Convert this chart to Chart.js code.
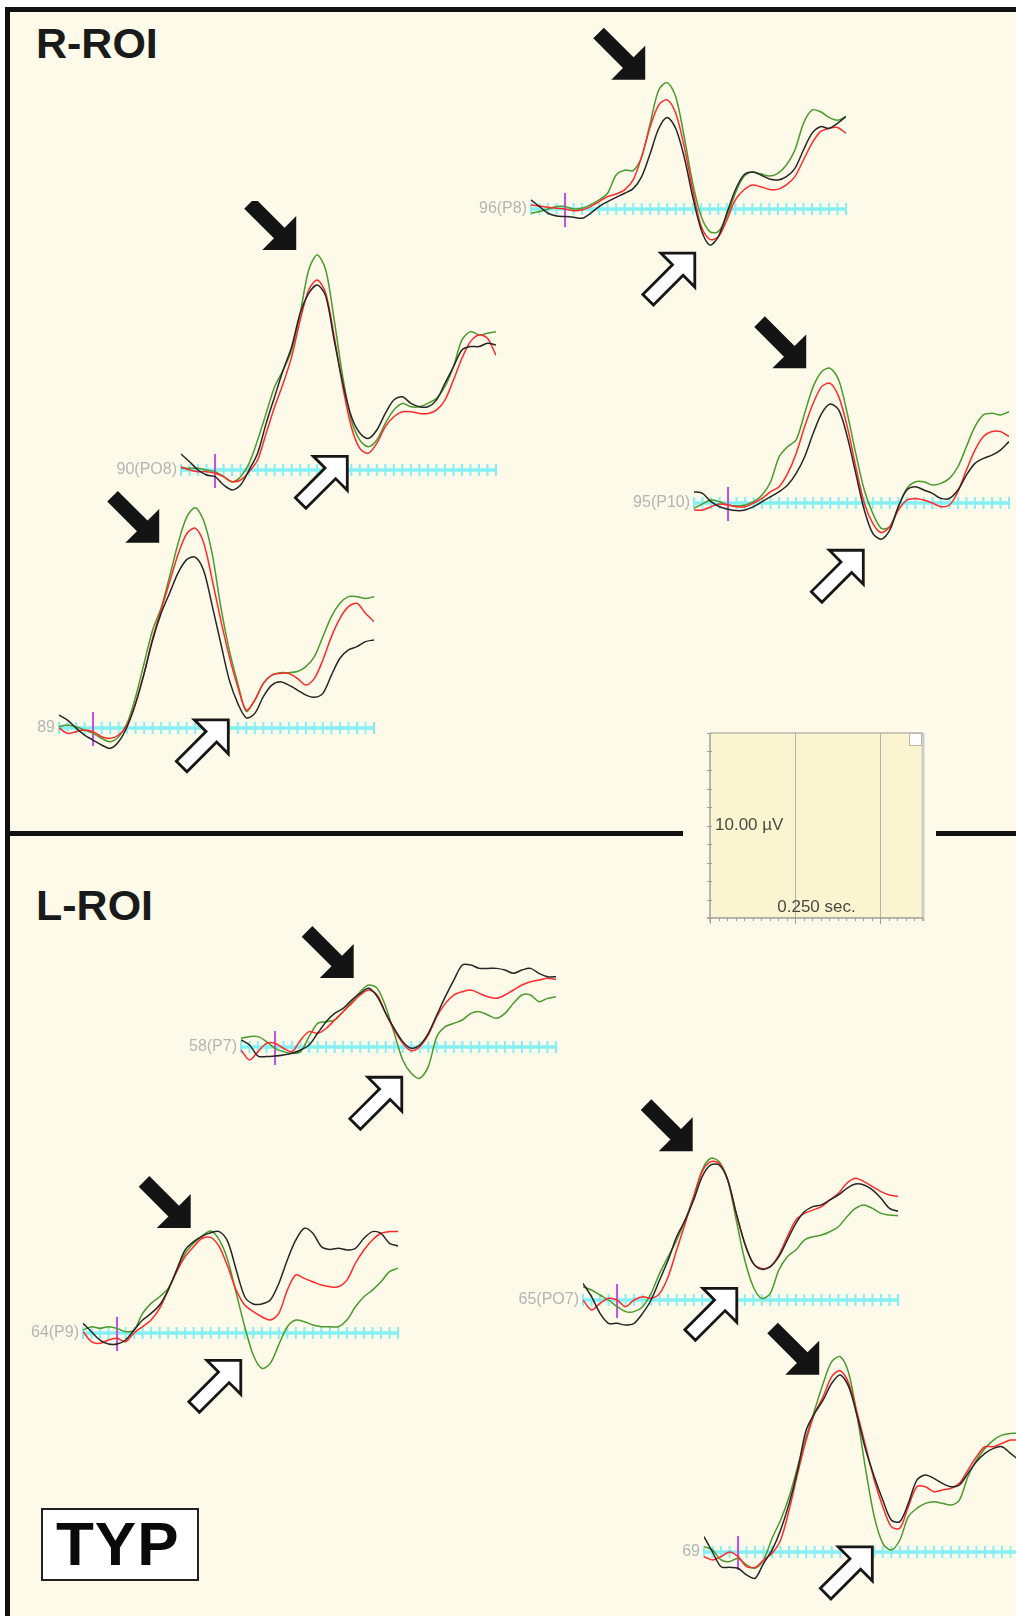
<!DOCTYPE html>
<html>
<head>
<meta charset="utf-8">
<script src="https://cdn.jsdelivr.net/npm/chart.js@4"></script>
<style>
  html, body { margin: 0; padding: 0; width: 1016px; height: 1616px; overflow: hidden; background: #ffffff; }
  #page { position: relative; width: 1016px; height: 1616px; overflow: hidden; }
  .frame { position: absolute; left: 5px; top: 7px; width: 1011px; height: 1609px; box-sizing: border-box;
           border-left: 5px solid #111; border-top: 5px solid #111; background: #FDFAEA; }
  .divider { position: absolute; top: 831px; height: 5px; background: #111; }
  .roi { position: absolute; font-family: "Liberation Sans", Arial, sans-serif; font-weight: bold;
         font-size: 43px; line-height: 1; color: #1a1a1a; white-space: nowrap; }
  .typ { position: absolute; left: 41px; top: 1508px; width: 158px; height: 73px; box-sizing: border-box;
         border: 2px solid #222; background: #ffffff; }
  .typ span { position: absolute; left: 13px; top: 3px; font-family: "Liberation Sans", Arial, sans-serif;
              font-weight: bold; font-size: 62px; line-height: 1; letter-spacing: 1px; color: #0a0a0a; }
  canvas { position: absolute; }
</style>
</head>
<body>
<div id="page">
  <div class="frame"></div>
  <div class="divider" style="left:10px; width:673px;"></div>
  <div class="divider" style="left:936px; width:80px;"></div>
  <div class="roi" style="left:36px; top:22px;">R-ROI</div>
  <div class="roi" style="left:36px; top:884px;">L-ROI</div>
  <div class="typ"><span>TYP</span></div>
</div>
<script>
// Epoch sample times (ms), shared by every electrode
const times = [-40,-30,-20,-10,0,10,20,30,40,50,60,70,80,90,100,110,120,130,140,150,160,170,180,190,200,210,220,230,240,250,260,270,280,290,300,310,320,330];

// Grand-average amplitudes (µV), one array per electrode and condition trace
const e96_black = [0.49,0.13,-0.23,-0.38,-0.41,-0.45,-0.5,-0.23,0.13,0.4,0.63,0.85,1.1,1.75,3.0,4.35,4.95,4.35,2.8,0.65,-1.13,-1.95,-1.5,-0.23,1.03,1.84,2.0,1.84,1.62,1.57,1.75,2.2,3.19,4.09,4.45,4.36,4.63,5.0];
const e96_red   = [0.22,0.16,0.09,0.04,0,-0.09,-0.05,0.13,0.4,0.67,0.81,1.03,1.57,2.83,4.45,5.62,5.9,5.17,3.37,1.03,-0.95,-1.64,-1.5,-0.6,0.49,1.03,1.3,1.2,1.06,1.06,1.3,1.75,2.65,3.55,4.18,4.36,4.41,4.09];
const e96_green = [-0.23,-0.14,0,0.13,0.13,0,0.04,0.22,0.49,0.85,1.84,2.1,2.07,2.83,4.63,6.43,6.83,6.07,3.9,1.39,-0.41,-1.22,-1.22,-0.41,0.85,1.75,2.0,1.9,1.78,1.93,2.38,3.19,4.63,5.35,5.26,4.95,4.8,5.0];

const e90_black = [0.86,0.45,0,-0.27,-0.36,-0.81,-1.08,-0.81,0,0.9,2.52,3.96,5.4,6.67,8.47,9.55,10.0,9.4,7.0,4.7,2.9,2.0,1.7,2.16,3.06,3.78,3.96,3.6,3.42,3.42,3.78,4.68,5.58,6.49,6.67,6.67,6.85,6.76];
const e90_red   = [0.18,0,-0.09,-0.09,-0.18,-0.36,-0.63,-0.54,-0.09,0.54,1.98,3.42,4.68,6.13,8.1,9.73,10.27,9.55,7.2,4.5,2.34,1.17,0.9,1.44,2.34,2.88,3.15,3.15,3.06,3.06,3.24,3.78,4.86,6.04,6.94,7.3,7.12,6.2];
const e90_green = [0.09,0.09,0.09,0,-0.09,-0.36,-0.63,-0.36,0.36,1.62,3.06,4.5,5.4,6.49,8.47,10.81,11.62,10.81,8.1,5.04,2.7,1.62,1.26,1.62,2.52,3.24,3.6,3.42,3.42,3.6,3.87,4.5,5.58,7.03,7.48,7.3,7.39,7.48];

const e95_black = [0.61,0.52,0.07,-0.2,-0.34,-0.41,-0.38,-0.2,0.07,0.34,0.61,0.97,1.6,2.5,3.77,4.85,5.35,5.03,3.59,1.6,-0.38,-1.64,-1.96,-1.46,-0.2,0.7,0.88,0.7,0.52,0.25,0.25,0.7,1.51,2.14,2.41,2.59,2.86,3.32];
const e95_red   = [-0.38,-0.38,-0.2,-0.05,-0.11,-0.2,-0.2,0,0.25,0.61,0.88,1.6,2.68,4.13,5.39,6.29,6.47,5.75,4.13,1.96,0,-1.1,-1.6,-1.28,-0.38,0.16,0.25,0.16,0,-0.2,-0.11,0.61,1.78,2.86,3.59,3.86,3.86,3.59];
const e95_green = [-0.29,-0.05,0.16,0.07,-0.11,-0.16,-0.11,0.07,0.43,1.15,2.5,3.05,3.41,4.85,6.29,7.1,7.28,6.65,4.85,2.68,0.7,-0.56,-1.37,-1.28,-0.2,0.79,1.15,1.15,0.97,1.06,1.33,1.96,3.05,4.13,4.76,4.85,4.76,4.94];

const e89_black = [0.7,0.43,0,-0.38,-0.65,-0.92,-1.1,-0.74,0.07,1.33,2.95,4.76,6.2,7.3,8.4,9.1,9.24,8.5,6.6,4.58,2.6,1.33,0.55,0.79,1.7,2.32,2.5,2.32,2.05,1.78,1.66,1.87,2.86,3.77,4.22,4.4,4.67,4.76];
const e89_red   = [0,-0.29,-0.2,-0.11,-0.2,-0.47,-0.56,-0.38,0.16,1.33,2.95,4.85,6.4,7.9,9.4,10.5,10.8,10.0,8.0,5.84,3.86,2.23,0.97,1.51,2.41,2.86,2.95,2.95,2.68,2.32,2.68,3.68,4.94,5.93,6.56,6.74,6.2,5.75];
const e89_green = [0.07,0.16,0.07,-0.11,-0.29,-0.56,-0.74,-0.47,0.25,1.69,3.5,5.3,6.5,8.2,10.0,11.4,11.9,11.2,9.4,6.56,4.22,2.41,0.9,1.51,2.41,2.86,2.99,2.99,3.05,3.32,3.86,4.94,6.02,6.74,7.1,7.1,7.0,7.1];

const e58_black = [0.38,0.11,-0.49,-0.52,-0.49,-0.43,-0.34,-0.16,0.11,0.74,1.37,1.82,2.09,2.54,2.9,3.17,2.72,1.82,1.0,0.29,-0.07,0.11,0.74,1.73,2.72,3.62,4.43,4.43,4.25,4.25,4.25,4.16,3.98,4.16,4.25,3.98,3.8,3.8];
const e58_red   = [-0.16,-0.7,-0.25,0.2,0.2,-0.07,-0.25,0.38,0.83,0.74,1.0,1.46,1.91,2.36,2.81,3.08,2.81,1.82,0.92,0.2,-0.2,0.02,0.65,1.64,2.36,2.81,2.99,3.08,2.9,2.72,2.63,2.81,3.08,3.35,3.53,3.62,3.71,3.66];
const e58_green = [0.47,0.56,0.56,0.29,-0.07,-0.25,-0.34,-0.25,0.56,1.28,1.37,1.46,1.91,2.45,2.99,3.35,3.17,2.18,0.74,-0.7,-1.42,-1.69,-1.06,0.56,1.1,1.28,1.46,1.82,1.91,1.73,1.55,1.82,2.36,2.81,2.81,2.45,2.63,2.72];

const e64_black = [0.52,0.07,-0.38,-0.6,-0.6,-0.38,0.16,0.7,1.06,1.51,2.32,3.41,4.49,4.94,5.24,5.42,5.48,4.94,3.41,1.96,1.57,1.57,1.78,2.68,3.95,5.03,5.66,5.39,4.67,4.52,4.58,4.49,4.58,5.12,5.48,5.39,4.85,4.7];
const e64_red   = [0.07,-0.47,-0.56,-0.38,-0.29,-0.47,0,0.34,0.7,1.33,2.32,3.32,4.13,4.67,5.12,5.17,4.67,3.59,2.32,1.51,1.15,0.88,0.7,1.06,2.32,3.14,2.95,2.77,2.59,2.5,2.5,2.86,3.77,4.49,5.03,5.39,5.48,5.48];
const e64_green = [0.16,0.34,0.25,0.34,0.25,0.07,0.16,1.06,1.6,1.96,2.41,3.32,4.31,4.85,5.24,5.51,5.03,3.95,2.14,0.34,-1.19,-1.91,-1.64,-0.63,0.34,0.7,0.61,0.43,0.34,0.34,0.34,0.7,1.42,1.96,2.32,2.77,3.32,3.5];

const e65_black = [0.9,0.18,-0.72,-1.26,-1.26,-1.35,-1.26,-0.72,0,1.08,2.16,3.42,4.32,5.41,6.67,7.3,7.3,6.49,4.68,3.06,1.98,1.66,1.8,2.34,3.24,4.14,4.77,5.05,5.14,5.41,5.68,6.04,6.27,6.22,5.95,5.5,4.95,4.8];
const e65_red   = [0,-0.54,-0.18,0.09,0,-0.36,0,0.18,0.09,0.36,1.26,2.7,4.14,5.59,6.94,7.48,7.39,6.49,4.68,3.06,1.98,1.71,1.8,2.43,3.42,4.32,4.68,4.86,5.05,5.41,5.77,6.31,6.58,6.4,6.13,5.86,5.68,5.6];
const e65_green = [0.72,0.54,0.27,0,-0.36,-0.63,-0.63,-0.36,0.36,1.44,2.34,3.24,4.32,5.59,7.03,7.66,7.48,6.49,4.32,2.16,0.72,0.09,0.36,1.62,2.34,2.7,3.24,3.42,3.51,3.69,3.96,4.5,4.95,5.14,4.95,4.68,4.59,4.55];

const e69_black = [0.83,0,-0.8,-0.83,-0.88,-1.24,-1.42,-0.61,0.11,1.19,2.63,4.43,6.59,7.5,8.22,9.12,9.57,8.94,7.32,5.51,4.07,2.81,1.73,1.64,2.63,3.89,4.16,3.98,3.71,3.53,3.62,4.25,4.88,5.33,5.6,5.69,5.33,4.97];
const e69_red   = [-0.25,-0.43,-0.25,0,-0.25,-0.79,-0.83,-0.43,-0.07,0.65,2.27,4.25,6.05,7.5,8.4,9.48,9.8,9.12,7.5,5.69,3.89,2.45,1.37,1.28,2.45,3.53,3.53,3.26,3.35,3.44,3.71,4.43,5.15,5.69,5.69,5.87,6.05,6.05];
const e69_green = [0.29,0.11,-0.43,-0.52,-0.34,-0.7,-0.88,-0.43,0.74,1.73,2.99,4.61,6.23,7.68,9.12,10.29,10.56,9.66,7.32,4.43,1.91,0.47,0.11,0.65,1.91,2.36,2.63,2.72,2.63,2.54,2.81,4.07,4.97,5.6,6.05,6.32,6.41,6.41];

// Channel labels
const labels = ['96(P8)', '90(PO8)', '95(P10)', '89', '58(P7)', '64(P9)', '65(PO7)', '69'];

// Trace colours: black, red, green
const traceColors = ['#262626', '#ff2b2b', '#4b9a2c'];

// Page placement of each channel: stimulus-onset x, zero-µV y, and arrow offsets (px)
const layout = [
  { onset: [565, 209],  peakArrow: [-22, -3], troughArrow: [-15, 8] },
  { onset: [215, 470],  peakArrow: [-21, -5], troughArrow: [-21, 3] },
  { onset: [728, 503],  peakArrow: [-24, 0],  troughArrow: [-18, 11] },
  { onset: [93, 728],   peakArrow: [-36, 35], troughArrow: [-18, 2] },
  { onset: [275, 1047], peakArrow: [-15, -7], troughArrow: [-18, -1] },
  { onset: [117, 1333], peakArrow: [-20, -3], troughArrow: [-21, -8] },
  { onset: [617, 1300], peakArrow: [-18, -7], troughArrow: [-25, -10] },
  { onset: [738, 1552], peakArrow: [-21, 18], troughArrow: [-19, -3] }
];
const series = [
  [e96_black, e96_red, e96_green],
  [e90_black, e90_red, e90_green],
  [e95_black, e95_red, e95_green],
  [e89_black, e89_red, e89_green],
  [e58_black, e58_red, e58_green],
  [e64_black, e64_red, e64_green],
  [e65_black, e65_red, e65_green],
  [e69_black, e69_red, e69_green]
];

// Axis ranges shared by all channels
const T_MIN = -40, T_MAX = 330, V_MIN = -6, V_MAX = 14;
const AREA_W = 315, AREA_H = 370;          // 0.851 px/ms, 18.5 px/µV
const PAD = { left: 80, right: 10, top: 10, bottom: 10 };

function drawArrow(ctx, tx, ty, down, filled) {
  const s = Math.SQRT1_2;
  const d = [s, down ? s : -s];
  const n = [-d[1], d[0]];
  const L = 66, h = 24, hw = 24, sw = 7.5;
  const pts = [[0,0],[-h,hw],[-h,sw],[-L,sw],[-L,-sw],[-h,-sw],[-h,-hw]];
  ctx.beginPath();
  pts.forEach(([u, v], i) => {
    const px = tx + u * d[0] + v * n[0];
    const py = ty + u * d[1] + v * n[1];
    if (i) ctx.lineTo(px, py); else ctx.moveTo(px, py);
  });
  ctx.closePath();
  if (filled) {
    ctx.fillStyle = '#141414';
    ctx.fill();
  } else {
    ctx.fillStyle = '#ffffff';
    ctx.fill();
    ctx.lineWidth = 2.8;
    ctx.lineJoin = 'miter';
    ctx.strokeStyle = '#161616';
    ctx.stroke();
  }
}

// Baseline with 10 ms ticks, onset marker, channel name and peak/trough arrows
const erpPlugin = {
  id: 'erp',
  beforeDatasetsDraw(chart) {
    const { ctx, scales: { x, y } } = chart;
    const y0 = y.getPixelForValue(0);
    ctx.save();
    ctx.strokeStyle = '#84F0F4';
    ctx.lineWidth = 3.5;
    ctx.beginPath();
    ctx.moveTo(x.getPixelForValue(T_MIN), y0);
    ctx.lineTo(x.getPixelForValue(T_MAX), y0);
    ctx.stroke();
    ctx.lineWidth = 2;
    ctx.beginPath();
    times.forEach(t => {
      const px = x.getPixelForValue(t);
      ctx.moveTo(px, y0 - 6);
      ctx.lineTo(px, y0 + 6);
    });
    ctx.stroke();
    const x0 = x.getPixelForValue(0);
    ctx.strokeStyle = '#C34FE0';
    ctx.lineWidth = 2;
    ctx.beginPath();
    ctx.moveTo(x0, y0 - 16);
    ctx.lineTo(x0, y0 + 18);
    ctx.stroke();
    ctx.restore();
  },
  afterDatasetsDraw(chart, args, opts) {
    const { ctx, scales: { x, y } } = chart;
    ctx.save();
    ctx.font = '16px "Liberation Sans", Arial, sans-serif';
    ctx.fillStyle = '#b4b4b4';
    ctx.textAlign = 'right';
    ctx.textBaseline = 'middle';
    ctx.fillText(opts.label, x.getPixelForValue(T_MIN) - 4, y.getPixelForValue(0));

    // largest positive peak and deepest following trough across all traces
    let peak = null, trough = null;
    chart.data.datasets.forEach(ds => ds.data.forEach(p => {
      if (p.x >= 60 && p.x <= 160 && (!peak || p.y > peak.y)) peak = p;
      if (p.x >= 140 && p.x <= 220 && (!trough || p.y < trough.y)) trough = p;
    }));
    drawArrow(ctx, x.getPixelForValue(peak.x) + opts.peakArrow[0],
                   y.getPixelForValue(peak.y) + opts.peakArrow[1], true, true);
    drawArrow(ctx, x.getPixelForValue(trough.x) + opts.troughArrow[0],
                   y.getPixelForValue(trough.y) + opts.troughArrow[1], false, false);
    ctx.restore();
  }
};

const page = document.getElementById('page');
const mkPoints = vals => times.map((t, i) => ({ x: t, y: vals[i] }));

labels.forEach((label, k) => {
  const L = layout[k];
  const areaLeft = L.onset[0] + T_MIN * AREA_W / (T_MAX - T_MIN);
  const areaTop = L.onset[1] - V_MAX * AREA_H / (V_MAX - V_MIN);
  const cv = document.createElement('canvas');
  cv.width = PAD.left + AREA_W + PAD.right;
  cv.height = PAD.top + AREA_H + PAD.bottom;
  cv.style.left = (areaLeft - PAD.left) + 'px';
  cv.style.top = (areaTop - PAD.top) + 'px';
  cv.style.width = cv.width + 'px';
  cv.style.height = cv.height + 'px';
  page.appendChild(cv);
  new Chart(cv, {
    type: 'line',
    data: {
      datasets: series[k].map((vals, j) => ({
        data: mkPoints(vals),
        borderColor: traceColors[j],
        borderWidth: 1.5,
        pointRadius: 0,
        tension: 0.3,
        fill: false
      }))
    },
    options: {
      responsive: false,
      maintainAspectRatio: false,
      animation: false,
      devicePixelRatio: 1,
      events: [],
      layout: { padding: PAD },
      scales: {
        x: { type: 'linear', min: T_MIN, max: T_MAX, display: false },
        y: { type: 'linear', min: V_MIN, max: V_MAX, display: false }
      },
      plugins: {
        legend: { display: false },
        tooltip: { enabled: false },
        erp: { label, peakArrow: L.peakArrow, troughArrow: L.troughArrow }
      }
    },
    plugins: [erpPlugin]
  });
});

// Calibration box: 0.250 s wide, 10 µV tall
const CAL_SEC = 0.25, CAL_UV = 10;
const calPlugin = {
  id: 'cal',
  beforeDraw(chart) {
    const { ctx, chartArea: a, scales: { x, y } } = chart;
    ctx.save();
    ctx.fillStyle = '#FBF4D0';
    ctx.fillRect(a.left, a.top, a.right - a.left, a.bottom - a.top);
    // vertical grid every 0.1 s
    ctx.strokeStyle = '#b3b2aa';
    ctx.lineWidth = 1;
    [0.1, 0.2].forEach(v => {
      const px = Math.round(x.getPixelForValue(v)) + 0.5;
      ctx.beginPath(); ctx.moveTo(px, a.top); ctx.lineTo(px, a.bottom); ctx.stroke();
    });
    // top edge
    ctx.strokeStyle = '#b8b7ae';
    ctx.lineWidth = 1.5;
    ctx.beginPath(); ctx.moveTo(a.left, a.top); ctx.lineTo(a.right, a.top); ctx.stroke();
    // right edge
    ctx.strokeStyle = '#cfcec6';
    ctx.lineWidth = 3;
    ctx.beginPath(); ctx.moveTo(a.right, a.top); ctx.lineTo(a.right, a.bottom + 3); ctx.stroke();
    // left axis with 1 µV ticks
    ctx.strokeStyle = '#a09f98';
    ctx.lineWidth = 1.5;
    const xl = x.getPixelForValue(0);
    ctx.beginPath(); ctx.moveTo(xl, a.top); ctx.lineTo(xl, a.bottom + 4); ctx.stroke();
    ctx.lineWidth = 1;
    ctx.beginPath();
    for (let v = 0; v <= CAL_UV; v++) {
      const py = Math.round(y.getPixelForValue(v)) + 0.5;
      ctx.moveTo(xl - 3, py); ctx.lineTo(xl + 2, py);
    }
    ctx.stroke();
    // bottom axis with 10 ms ticks
    const yb = y.getPixelForValue(0);
    ctx.lineWidth = 1.5;
    ctx.beginPath(); ctx.moveTo(xl - 3, yb); ctx.lineTo(a.right, yb); ctx.stroke();
    ctx.lineWidth = 1;
    ctx.beginPath();
    for (let i = 0; i <= 25; i++) {
      const px = Math.round(x.getPixelForValue(i / 100)) + 0.5;
      ctx.moveTo(px, yb); ctx.lineTo(px, yb + (i % 10 === 0 ? 6 : 3));
    }
    ctx.stroke();
    // small box in the corner
    ctx.fillStyle = '#ffffff';
    ctx.strokeStyle = '#b8b7ae';
    ctx.fillRect(a.right - 13, a.top + 1, 11, 11);
    ctx.strokeRect(a.right - 13.5, a.top + 0.5, 12, 12);
    // scale texts
    ctx.fillStyle = '#4a4a44';
    ctx.font = '17px "Liberation Sans", Arial, sans-serif';
    ctx.textBaseline = 'middle';
    ctx.textAlign = 'left';
    ctx.fillText(CAL_UV.toFixed(2) + ' µV', xl + 5, y.getPixelForValue(CAL_UV / 2));
    ctx.textAlign = 'center';
    ctx.textBaseline = 'alphabetic';
    ctx.fillText(CAL_SEC.toFixed(3) + ' sec.', x.getPixelForValue(CAL_SEC / 2), y.getPixelForValue(0.35));
    ctx.restore();
  }
};
const calCanvas = document.createElement('canvas');
calCanvas.width = 250; calCanvas.height = 215;
calCanvas.style.left = '690px'; calCanvas.style.top = '720px';
calCanvas.style.width = '250px'; calCanvas.style.height = '215px';
page.appendChild(calCanvas);
new Chart(calCanvas, {
  type: 'line',
  data: { datasets: [] },
  options: {
    responsive: false, maintainAspectRatio: false, animation: false, devicePixelRatio: 1, events: [],
    layout: { padding: { left: 20, top: 13, right: 17, bottom: 17 } },
    scales: {
      x: { type: 'linear', min: 0, max: CAL_SEC, display: false },
      y: { type: 'linear', min: 0, max: CAL_UV, display: false }
    },
    plugins: { legend: { display: false }, tooltip: { enabled: false } }
  },
  plugins: [calPlugin]
});
</script>
</body>
</html>
